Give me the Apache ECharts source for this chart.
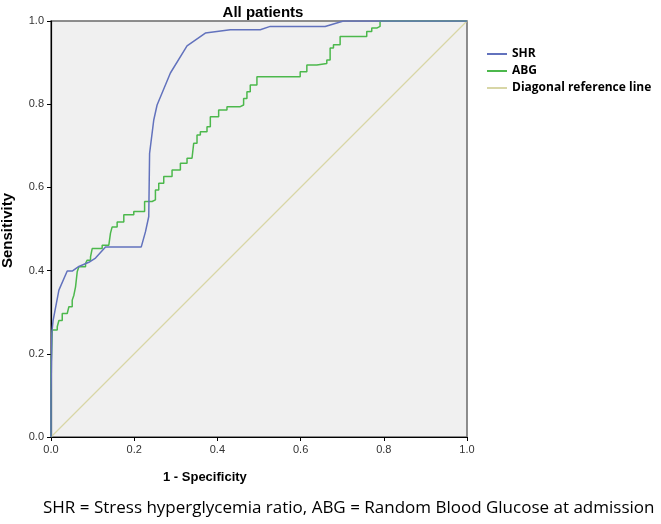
<!DOCTYPE html>
<html>
<head>
<meta charset="utf-8">
<script src="https://cdn.jsdelivr.net/npm/echarts@6/dist/echarts.min.js"></script>
<style>
  * { margin: 0; padding: 0; }
  body { background: #fff; }
  #chart { width: 661px; height: 524px; }
</style>
</head>
<body>
<div id="chart"></div>
<script>
// ROC points: [1 - specificity, sensitivity]
const shrPoints = [
  [0, 0], [0, 0.1], [0.002, 0.25], [0.005, 0.28], [0.019, 0.353], [0.039, 0.399],
  [0.051, 0.399], [0.067, 0.41], [0.091, 0.42], [0.107, 0.43], [0.131, 0.457],
  [0.217, 0.457], [0.227, 0.493], [0.235, 0.53], [0.237, 0.682], [0.247, 0.762],
  [0.255, 0.798], [0.287, 0.875], [0.327, 0.94], [0.371, 0.971], [0.431, 0.979],
  [0.503, 0.979], [0.527, 0.987], [0.659, 0.987], [0.703, 1.0], [1, 1]
];
const abgPoints = [
  [0, 0], [0, 0.16], [0.003, 0.257], [0.015, 0.265], [0.019, 0.28], [0.027, 0.297],
  [0.039, 0.3], [0.043, 0.313], [0.051, 0.329], [0.055, 0.341], [0.059, 0.361],
  [0.063, 0.397], [0.067, 0.409], [0.083, 0.417], [0.087, 0.425], [0.095, 0.433],
  [0.099, 0.453], [0.123, 0.461], [0.139, 0.465], [0.143, 0.49], [0.147, 0.505],
  [0.159, 0.517], [0.175, 0.534], [0.199, 0.542], [0.225, 0.566], [0.243, 0.57],
  [0.251, 0.594], [0.259, 0.61], [0.271, 0.626], [0.291, 0.642], [0.311, 0.658],
  [0.327, 0.67], [0.339, 0.674], [0.343, 0.706], [0.351, 0.726], [0.359, 0.734],
  [0.375, 0.746], [0.383, 0.77], [0.403, 0.786], [0.423, 0.794], [0.455, 0.798],
  [0.463, 0.814], [0.471, 0.83], [0.479, 0.846], [0.495, 0.866], [0.599, 0.878],
  [0.615, 0.894], [0.639, 0.898], [0.663, 0.906], [0.671, 0.935], [0.679, 0.943],
  [0.695, 0.963], [0.759, 0.975], [0.771, 0.983], [0.783, 0.987], [0.791, 1.0], [1, 1]
];
const diagonalPoints = [[0, 0], [1, 1]];
const seriesNames = ['SHR', 'ABG', 'Diagonal reference line'];
const seriesColors = ['#6272bd', '#4cb84c', '#d8d6a6'];

const chart = echarts.init(document.getElementById('chart'), null, { renderer: 'canvas' });

const option = {
  animation: false,
  title: {
    text: 'All patients',
    left: 258,
    textAlign: 'center',
    top: 0,
    textStyle: { fontFamily: 'Liberation Sans', fontSize: 15, fontWeight: 'bold', color: '#000' }
  },
  legend: {
    orient: 'vertical',
    left: 482,
    top: 43,
    itemWidth: 20,
    itemHeight: 2,
    itemGap: 5,
    icon: 'rect',
    data: seriesNames,
    textStyle: { fontFamily: 'Open Sans', fontSize: 12, lineHeight: 12, fontWeight: 'bold', color: '#000' }
  },
  grid: {
    left: 51,
    right: 194,
    top: 21,
    bottom: 87,
    show: true,
    backgroundColor: '#f0f0f0',
    borderColor: '#6a6a6a',
    borderWidth: 1.5
  },
  xAxis: {
    type: 'value',
    min: 0,
    max: 1,
    interval: 0.2,
    splitLine: { show: false },
    axisLine: { lineStyle: { color: '#000', width: 1.2 } },
    axisTick: { length: 4, lineStyle: { color: '#000' } },
    axisLabel: {
      margin: 7,
      formatter: v => v.toFixed(1),
      fontFamily: 'Liberation Sans', fontSize: 11, color: '#333'
    }
  },
  yAxis: {
    type: 'value',
    min: 0,
    max: 1,
    interval: 0.2,
    splitLine: { show: false },
    axisLine: { lineStyle: { color: '#000', width: 1.2 } },
    axisTick: { length: 4, lineStyle: { color: '#000' } },
    axisLabel: {
      margin: 7,
      formatter: v => v.toFixed(1),
      fontFamily: 'Liberation Sans', fontSize: 11, color: '#333'
    }
  },
  graphic: [
    {
      type: 'text',
      left: 163,
      top: 471,
      style: { text: '1 - Specificity', font: 'bold 13px "Liberation Sans"', fill: '#000' }
    },
    {
      type: 'text',
      x: 0,
      y: 268,
      rotation: Math.PI / 2,
      style: { text: 'Sensitivity', font: 'bold 15px "Liberation Sans"', fill: '#000' }
    },
    {
      type: 'text',
      left: 43,
      top: 500,
      style: {
        text: 'SHR = Stress hyperglycemia ratio, ABG = Random Blood Glucose at admission',
        font: '17px "Open Sans"', fill: '#000'
      }
    }
  ],
  series: [
    {
      name: seriesNames[0],
      type: 'line',
      data: shrPoints,
      showSymbol: false,
      color: seriesColors[0],
      lineStyle: { width: 1.5 },
      z: 4
    },
    {
      name: seriesNames[1],
      type: 'line',
      step: 'end',
      data: abgPoints,
      showSymbol: false,
      color: seriesColors[1],
      lineStyle: { width: 1.5 },
      z: 3
    },
    {
      name: seriesNames[2],
      type: 'line',
      data: diagonalPoints,
      showSymbol: false,
      color: seriesColors[2],
      lineStyle: { width: 1.3 },
      z: 2
    }
  ]
};

chart.setOption(option);
</script>
</body>
</html>
